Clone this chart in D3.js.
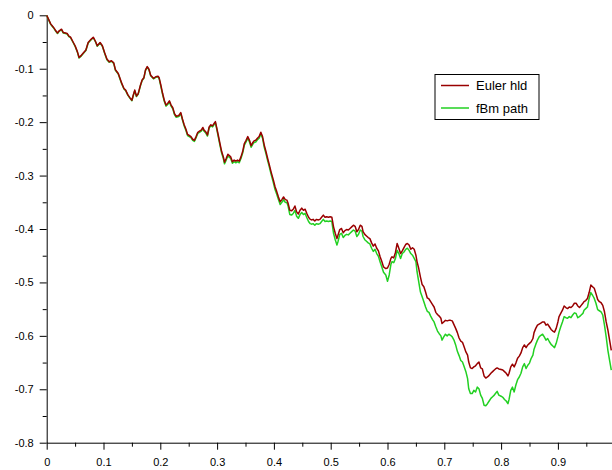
<!DOCTYPE html>
<html>
<head>
<meta charset="utf-8">
<script src="https://cdn.jsdelivr.net/npm/d3@7"></script>
<style>
  html, body { margin: 0; padding: 0; background: #fff; }
  svg { display: block; }
  text { font-family: "Liberation Sans", Arial, Helvetica, sans-serif; fill: #000; }
</style>
</head>
<body>
<svg id="chart" width="612" height="470"></svg>
<script>
// Time grid on [0, 1]
const tValues = [
  0, 0.004, 0.007, 0.010, 0.013, 0.016, 0.019, 0.022, 0.026, 0.029,
  0.033, 0.036, 0.039, 0.042, 0.046, 0.050, 0.054, 0.057, 0.060, 0.064,
  0.069, 0.073, 0.077, 0.082, 0.086, 0.089, 0.094, 0.098, 0.102, 0.106,
  0.110, 0.114, 0.118, 0.121, 0.126, 0.129, 0.132, 0.136, 0.139, 0.143,
  0.147, 0.150, 0.152, 0.155, 0.158, 0.161, 0.165, 0.168, 0.171, 0.174,
  0.177, 0.180, 0.183, 0.188, 0.192, 0.196,
  0.198, 0.201, 0.204, 0.207, 0.210, 0.213, 0.216, 0.219, 0.222, 0.225,
  0.228, 0.231, 0.233, 0.236, 0.239, 0.242, 0.245, 0.248, 0.251, 0.254,
  0.257, 0.260, 0.263, 0.266, 0.269, 0.272, 0.275, 0.277, 0.280, 0.283,
  0.286, 0.289, 0.292, 0.295, 0.297, 0.299, 0.302, 0.305, 0.308, 0.311,
  0.313, 0.316, 0.319, 0.321, 0.324, 0.327, 0.330, 0.333, 0.336, 0.339,
  0.342, 0.345, 0.348, 0.351, 0.354, 0.357, 0.360, 0.363, 0.365, 0.368,
  0.371, 0.374, 0.377, 0.380, 0.383, 0.386, 0.389, 0.392, 0.395,
  0.399, 0.402, 0.405, 0.408, 0.411, 0.414, 0.417, 0.420, 0.423, 0.425,
  0.428, 0.431, 0.434, 0.437, 0.440, 0.443, 0.446, 0.449, 0.452, 0.455,
  0.458, 0.461, 0.464, 0.467, 0.469, 0.472, 0.475, 0.478, 0.481, 0.484,
  0.487, 0.490, 0.493, 0.496, 0.499, 0.502, 0.505, 0.508, 0.511, 0.513,
  0.516, 0.519, 0.522, 0.525, 0.528, 0.531, 0.534, 0.537, 0.540, 0.543,
  0.546, 0.549, 0.552, 0.555, 0.557, 0.560, 0.563, 0.566, 0.569, 0.572,
  0.575, 0.578, 0.581, 0.584, 0.587, 0.590, 0.593,
  0.597, 0.600, 0.603, 0.606, 0.608, 0.611, 0.614, 0.617, 0.620, 0.623,
  0.626, 0.629, 0.632, 0.635, 0.638, 0.641, 0.644, 0.647, 0.650, 0.652,
  0.655, 0.658, 0.661, 0.664, 0.667, 0.670, 0.673, 0.676, 0.679, 0.682,
  0.685, 0.688, 0.691, 0.694, 0.696, 0.699, 0.702, 0.705, 0.708, 0.711,
  0.714, 0.717, 0.720, 0.723, 0.726, 0.729, 0.732, 0.735, 0.738, 0.741,
  0.743, 0.746, 0.749, 0.752, 0.755, 0.758, 0.761, 0.764, 0.767, 0.770,
  0.773, 0.776, 0.779, 0.782, 0.785, 0.788, 0.790, 0.793, 0.796,
  0.800, 0.803, 0.806, 0.809, 0.812, 0.814, 0.817, 0.820, 0.823, 0.826,
  0.829, 0.832, 0.835, 0.838, 0.841, 0.844, 0.847, 0.850, 0.853, 0.856,
  0.858, 0.861, 0.864, 0.867, 0.870, 0.873, 0.876, 0.879, 0.882, 0.885,
  0.888, 0.891, 0.894, 0.897, 0.900, 0.902, 0.905, 0.908, 0.911, 0.914,
  0.917, 0.920, 0.923, 0.926, 0.929, 0.932, 0.935, 0.938, 0.941, 0.944,
  0.946, 0.949, 0.952, 0.955, 0.958, 0.961, 0.964, 0.967, 0.970, 0.973,
  0.976, 0.979, 0.982, 0.985, 0.988, 0.991, 0.994
];

// Euler scheme (hld) trajectory
const eulerValues = [
  0, -0.009, -0.016, -0.020, -0.024, -0.029, -0.033, -0.029, -0.026, -0.032,
  -0.033, -0.034, -0.039, -0.041, -0.049, -0.057, -0.068, -0.079, -0.076, -0.071,
  -0.065, -0.051, -0.046, -0.041, -0.049, -0.057, -0.051, -0.057, -0.070, -0.082,
  -0.087, -0.085, -0.089, -0.102, -0.109, -0.118, -0.127, -0.137, -0.140, -0.149,
  -0.155, -0.159, -0.151, -0.140, -0.151, -0.147, -0.131, -0.121, -0.117, -0.102,
  -0.096, -0.101, -0.112, -0.118, -0.115, -0.114,
  -0.117, -0.131, -0.146, -0.159, -0.168, -0.165, -0.160, -0.168, -0.173, -0.184,
  -0.189, -0.188, -0.187, -0.182, -0.194, -0.205, -0.213, -0.223, -0.225, -0.227,
  -0.232, -0.234, -0.227, -0.219, -0.217, -0.215, -0.210, -0.215, -0.218, -0.224,
  -0.209, -0.205, -0.207, -0.202, -0.199, -0.209, -0.224, -0.240, -0.255, -0.265,
  -0.275, -0.268, -0.260, -0.262, -0.265, -0.274, -0.271, -0.273, -0.271, -0.273,
  -0.265, -0.255, -0.240, -0.234, -0.227, -0.234, -0.244, -0.238, -0.235, -0.234,
  -0.230, -0.227, -0.219, -0.227, -0.243, -0.255, -0.268, -0.280, -0.293,
  -0.308, -0.321, -0.330, -0.340, -0.349, -0.345, -0.340, -0.345, -0.346, -0.352,
  -0.365, -0.366, -0.363, -0.357, -0.368, -0.372, -0.365, -0.361, -0.365, -0.363,
  -0.371, -0.378, -0.382, -0.383, -0.382, -0.385, -0.382, -0.383, -0.382, -0.378,
  -0.374, -0.378, -0.377, -0.378, -0.377, -0.378, -0.396, -0.408, -0.418, -0.411,
  -0.401, -0.399, -0.407, -0.403, -0.401, -0.402, -0.399, -0.396, -0.393, -0.395,
  -0.405, -0.401, -0.393, -0.395, -0.405, -0.410, -0.413, -0.416, -0.418, -0.426,
  -0.432, -0.428, -0.436, -0.441, -0.452, -0.461, -0.471,
  -0.474, -0.473, -0.466, -0.455, -0.452, -0.454, -0.444, -0.427, -0.436, -0.446,
  -0.441, -0.435, -0.429, -0.427, -0.430, -0.438, -0.435, -0.438, -0.449, -0.461,
  -0.474, -0.490, -0.504, -0.508, -0.518, -0.529, -0.531, -0.536, -0.541, -0.546,
  -0.556, -0.560, -0.563, -0.567, -0.577, -0.574, -0.571, -0.572, -0.571, -0.571,
  -0.572, -0.579, -0.586, -0.594, -0.604, -0.610, -0.612, -0.621, -0.630, -0.636,
  -0.649, -0.660, -0.661, -0.658, -0.656, -0.652, -0.649, -0.660, -0.662, -0.675,
  -0.679, -0.677, -0.674, -0.670, -0.667, -0.664, -0.662, -0.660, -0.662,
  -0.663, -0.664, -0.667, -0.670, -0.675, -0.670, -0.658, -0.653, -0.658, -0.651,
  -0.642, -0.638, -0.632, -0.622, -0.617, -0.622, -0.617, -0.614, -0.611, -0.605,
  -0.594, -0.586, -0.580, -0.578, -0.576, -0.574, -0.574, -0.580, -0.578, -0.583,
  -0.588, -0.591, -0.593, -0.586, -0.574, -0.564, -0.558, -0.552, -0.544, -0.547,
  -0.549, -0.546, -0.547, -0.544, -0.539, -0.539, -0.544, -0.547, -0.543, -0.539,
  -0.536, -0.534, -0.530, -0.519, -0.505, -0.508, -0.511, -0.521, -0.532, -0.536,
  -0.538, -0.543, -0.555, -0.574, -0.589, -0.608, -0.627
];

// Exact fBm path
const fbmValues = [
  0, -0.010, -0.017, -0.021, -0.025, -0.030, -0.034, -0.030, -0.027, -0.033,
  -0.034, -0.035, -0.040, -0.042, -0.050, -0.058, -0.069, -0.080, -0.077, -0.072,
  -0.066, -0.052, -0.047, -0.042, -0.050, -0.058, -0.052, -0.058, -0.071, -0.083,
  -0.088, -0.086, -0.090, -0.103, -0.110, -0.119, -0.128, -0.138, -0.141, -0.150,
  -0.156, -0.160, -0.152, -0.141, -0.152, -0.148, -0.132, -0.122, -0.118, -0.103,
  -0.097, -0.102, -0.113, -0.119, -0.116, -0.115,
  -0.119, -0.133, -0.148, -0.161, -0.170, -0.167, -0.162, -0.170, -0.175, -0.186,
  -0.191, -0.190, -0.189, -0.184, -0.196, -0.207, -0.215, -0.225, -0.227, -0.229,
  -0.234, -0.236, -0.229, -0.221, -0.219, -0.217, -0.212, -0.217, -0.220, -0.226,
  -0.211, -0.207, -0.209, -0.204, -0.201, -0.211, -0.227, -0.243, -0.258, -0.268,
  -0.278, -0.271, -0.263, -0.265, -0.268, -0.277, -0.274, -0.276, -0.274, -0.276,
  -0.268, -0.258, -0.243, -0.237, -0.230, -0.237, -0.247, -0.241, -0.238, -0.237,
  -0.233, -0.230, -0.222, -0.230, -0.247, -0.259, -0.272, -0.284, -0.297,
  -0.313, -0.326, -0.335, -0.345, -0.354, -0.350, -0.345, -0.350, -0.351, -0.357,
  -0.373, -0.374, -0.371, -0.365, -0.376, -0.380, -0.373, -0.369, -0.373, -0.371,
  -0.379, -0.386, -0.390, -0.391, -0.390, -0.393, -0.390, -0.391, -0.390, -0.386,
  -0.382, -0.386, -0.385, -0.386, -0.385, -0.386, -0.408, -0.420, -0.430, -0.423,
  -0.410, -0.408, -0.416, -0.412, -0.410, -0.411, -0.408, -0.405, -0.402, -0.404,
  -0.414, -0.410, -0.402, -0.404, -0.414, -0.420, -0.423, -0.426, -0.428, -0.436,
  -0.442, -0.438, -0.446, -0.451, -0.462, -0.471, -0.481,
  -0.486, -0.498, -0.486, -0.466, -0.461, -0.463, -0.455, -0.440, -0.446, -0.455,
  -0.446, -0.443, -0.438, -0.436, -0.440, -0.446, -0.449, -0.455, -0.461, -0.480,
  -0.499, -0.518, -0.527, -0.536, -0.546, -0.554, -0.556, -0.563, -0.569, -0.574,
  -0.583, -0.591, -0.596, -0.600, -0.608, -0.602, -0.597, -0.600, -0.597, -0.599,
  -0.602, -0.608, -0.617, -0.629, -0.637, -0.646, -0.649, -0.658, -0.667, -0.680,
  -0.699, -0.708, -0.708, -0.702, -0.705, -0.696, -0.699, -0.711, -0.717, -0.730,
  -0.731, -0.727, -0.722, -0.717, -0.714, -0.711, -0.708, -0.704, -0.711,
  -0.713, -0.715, -0.719, -0.722, -0.727, -0.719, -0.702, -0.696, -0.705, -0.692,
  -0.682, -0.677, -0.670, -0.658, -0.652, -0.661, -0.655, -0.651, -0.642, -0.636,
  -0.625, -0.616, -0.608, -0.602, -0.599, -0.597, -0.602, -0.608, -0.605, -0.611,
  -0.616, -0.619, -0.622, -0.614, -0.602, -0.593, -0.583, -0.574, -0.564, -0.566,
  -0.567, -0.564, -0.566, -0.561, -0.557, -0.558, -0.566, -0.564, -0.561, -0.558,
  -0.552, -0.549, -0.546, -0.530, -0.519, -0.524, -0.530, -0.539, -0.551, -0.553,
  -0.555, -0.561, -0.580, -0.602, -0.627, -0.646, -0.664
];

const seriesNames = ["Euler hld", "fBm path"];
const seriesColors = ["#990000", "#22d022"];

const xTicks = [0, 0.1, 0.2, 0.3, 0.4, 0.5, 0.6, 0.7, 0.8, 0.9, 1];
const xMinorTicks = [0.05, 0.15, 0.25, 0.35, 0.45, 0.55, 0.65, 0.75, 0.85, 0.95];
const yTicks = [0, -0.1, -0.2, -0.3, -0.4, -0.5, -0.6, -0.7, -0.8];
const yMinorTicks = [-0.05, -0.15, -0.25, -0.35, -0.45, -0.55, -0.65, -0.75];

const svg = d3.select("#chart");

const x = d3.scaleLinear().domain([0, 1]).range([46.7, 614.7]);
const y = d3.scaleLinear().domain([-0.8, 0]).range([442.7, 15.3]);

// Plain hyphen-minus labels: 0, -0.1, 0.5 ...
const fmt = d => String(+(+d).toFixed(1));

// Minor ticks
svg.append("g")
  .attr("transform", `translate(0,${y(-0.8)})`)
  .call(d3.axisBottom(x).tickValues(xMinorTicks).tickSize(4).tickFormat(""))
  .call(g => g.select(".domain").remove());
svg.append("g")
  .attr("transform", `translate(${x(0)},0)`)
  .call(d3.axisLeft(y).tickValues(yMinorTicks).tickSize(4).tickFormat(""))
  .call(g => g.select(".domain").remove());

// Major axes
svg.append("g")
  .attr("transform", `translate(0,${y(-0.8)})`)
  .call(d3.axisBottom(x).tickValues(xTicks).tickSize(7).tickSizeOuter(0).tickPadding(9).tickFormat(fmt));
svg.append("g")
  .attr("transform", `translate(${x(0)},0)`)
  .call(d3.axisLeft(y).tickValues(yTicks).tickSize(7).tickSizeOuter(0).tickPadding(6).tickFormat(fmt));

svg.selectAll(".tick line, .domain").attr("stroke", "#000").attr("stroke-width", 1);
svg.selectAll(".tick text")
  .attr("font-family", "Liberation Sans, Arial, sans-serif")
  .attr("font-size", 11)
  .attr("fill", "#000");

// Curves: exact path underneath, Euler scheme on top
const n = Math.min(tValues.length, eulerValues.length, fbmValues.length);
const idx = d3.range(n);
const line = vals => d3.line()
  .x(i => x(tValues[i]))
  .y(i => y(vals[i]))(idx);

svg.append("path")
  .attr("d", line(fbmValues))
  .attr("fill", "none")
  .attr("stroke", seriesColors[1])
  .attr("stroke-width", 1.5)
  .attr("stroke-linejoin", "round");
svg.append("path")
  .attr("d", line(eulerValues))
  .attr("fill", "none")
  .attr("stroke", seriesColors[0])
  .attr("stroke-width", 1.5)
  .attr("stroke-linejoin", "round");

// Legend
const legend = svg.append("g").attr("transform", "translate(435,74.5)");
legend.append("rect")
  .attr("width", 104).attr("height", 45)
  .attr("fill", "#fff").attr("stroke", "#000").attr("stroke-width", 1);
seriesNames.forEach((name, i) => {
  const ly = 11 + i * 22.5;
  legend.append("line")
    .attr("x1", 6).attr("x2", 34).attr("y1", ly).attr("y2", ly)
    .attr("stroke", seriesColors[i]).attr("stroke-width", 1.5);
  legend.append("text")
    .attr("x", 41).attr("y", ly + 4.5)
    .attr("font-size", 13)
    .text(name);
});
</script>
</body>
</html>
